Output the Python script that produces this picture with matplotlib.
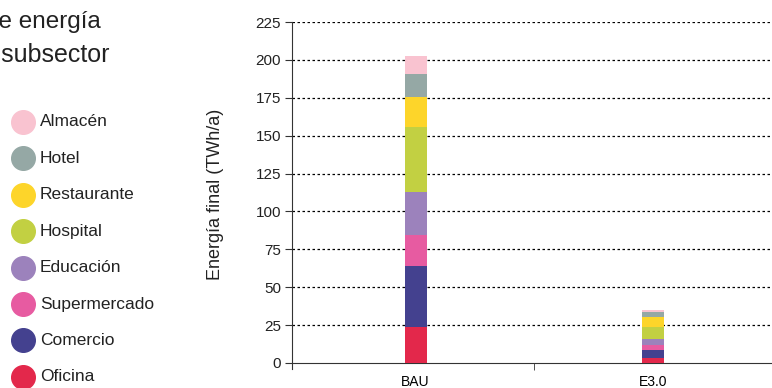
import matplotlib.pyplot as plt
from matplotlib.lines import Line2D
from matplotlib.ticker import FixedLocator

plt.rcParams['font.family'] = ['Liberation Sans', 'DejaVu Sans']

scenarios = ['BAU', 'E3.0']
subsectors = ['Oficina', 'Comercio', 'Supermercado', 'Educación',
              'Hospital', 'Restaurante', 'Hotel', 'Almacén']
colors = ['#e3284b', '#44418f', '#e75ba1', '#9c82bc',
          '#c2d042', '#fdd52a', '#95a8a5', '#f9c3d0']
# TWh/a per subsector, [BAU, E3.0]
oficina = [24.0, 3.3]
comercio = [40.0, 5.1]
supermercado = [20.2, 3.5]
educacion = [28.8, 3.7]
hospital = [42.5, 7.9]
restaurante = [20.0, 7.0]
hotel = [15.3, 3.1]
almacen = [11.9, 1.4]
values = [oficina, comercio, supermercado, educacion,
          hospital, restaurante, hotel, almacen]

fig = plt.figure(figsize=(7.72, 3.88), dpi=100)
ax = fig.add_axes([292 / 772, 19 / 388, 480 / 772, 347 / 388])

x = list(range(len(scenarios)))
bottom = [0, 0]
for name, vals, c in zip(subsectors, values, colors):
    ax.bar(x, vals, width=0.093, bottom=bottom, color=c, label=name, zorder=3)
    bottom = [b + v for b, v in zip(bottom, vals)]

ax.set_xlim(-0.52, 1.5)
ax.set_ylim(-4, 225)
ax.set_yticks(range(0, 226, 25))
for y in range(25, 226, 25):
    ax.axhline(y, color='black', lw=0.9, ls=(0, (2, 2)), zorder=1)

ax.set_xticks(x)
ax.set_xticklabels(scenarios, fontsize=11.5, color='#222222')
ax.xaxis.set_minor_locator(FixedLocator([0.5]))
ax.tick_params(axis='x', which='major', length=0, pad=9)
ax.tick_params(axis='x', which='minor', length=5, direction='out', color='#333333')
ax.tick_params(axis='y', length=5, direction='out', labelsize=11,
               labelcolor='#222222', color='#333333', pad=3)

for s in ['top', 'right']:
    ax.spines[s].set_visible(False)
ax.spines['bottom'].set_position(('data', 0))
ax.spines['bottom'].set_color('#333333')
ax.spines['left'].set_color('#333333')

fig.text(215 / 772, 0.5, 'Energía final (TWh/a)', rotation=90, ha='center',
         va='center', fontsize=13, color='#222222')

# title (cropped at the left edge, as in the source)
fig.text(101 / 772, 1 - 28 / 388, 'de energía', ha='right', va='baseline',
         fontsize=17.5, color='#222222')
fig.text(110 / 772, 1 - 62 / 388, 'por subsector', ha='right', va='baseline',
         fontsize=18, color='#222222')

# legend with circles, top to bottom
for i, (name, c) in enumerate(zip(subsectors[::-1], colors[::-1])):
    yy = 1 - (122 + i * 36.4) / 388
    fig.add_artist(Line2D([23 / 772], [yy], marker='o', markersize=17,
                          color=c, linestyle='none'))
    fig.text(40 / 772, yy, name, ha='left', va='center', fontsize=12.5,
             color='#222222')

plt.savefig('out.png')
